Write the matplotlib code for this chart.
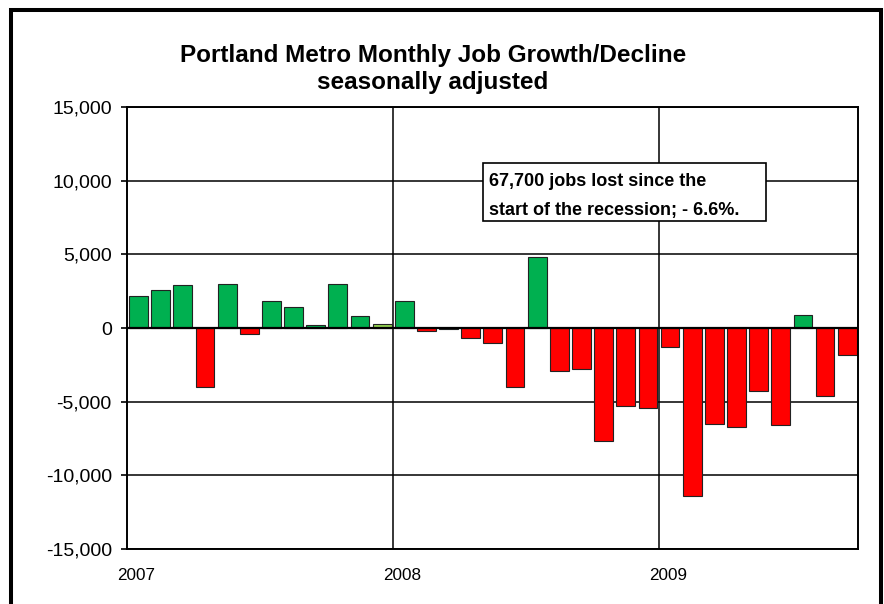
import matplotlib
matplotlib.use("Agg")
import matplotlib.pyplot as plt
from matplotlib.patches import Rectangle
from matplotlib.lines import Line2D
import numpy as np

plt.rcParams['font.family'] = ['Liberation Sans', 'DejaVu Sans']
plt.rcParams['axes.unicode_minus'] = False

# ---------------- data ----------------
months = ['2007-01', '2007-02', '2007-03', '2007-04', '2007-05', '2007-06',
          '2007-07', '2007-08', '2007-09', '2007-10', '2007-11', '2007-12',
          '2008-01', '2008-02', '2008-03', '2008-04', '2008-05', '2008-06',
          '2008-07', '2008-08', '2008-09', '2008-10', '2008-11', '2008-12',
          '2009-01', '2009-02', '2009-03', '2009-04', '2009-05', '2009-06',
          '2009-07', '2009-08', '2009-09']
job_change = [2200, 2600, 2900, -4000, 3000, -400, 1800, 1400, 200, 3000, 800, 300,
              1800, -200, -100, -700, -1000, -4000, 4800, -2900, -2800, -7700, -5300, -5400,
              -1300, -11400, -6500, -6700, -4300, -6600, 900, -4600, -1800]
highlight_month = '2007-12'
year_labels = ['2007', '2008', '2009']
y_ticks = [-15000, -10000, -5000, 0, 5000, 10000, 15000]
y_tick_labels = ['-15,000', '-10,000', '-5,000', '0', '5,000', '10,000', '15,000']
title_lines = ['Portland Metro Monthly Job Growth/Decline', 'seasonally adjusted']
note_lines = ['67,700 jobs lost since the', 'start of the recession; - 6.6%.']

# ---------------- styling ----------------
GREEN = '#00B050'
RED = '#FF0000'
LIGHT = '#92D050'

W, H = 884, 604
fig = plt.figure(figsize=(W / 100, H / 100), dpi=100)
fig.patch.set_facecolor('white')

left_px, right_px, top_px, bot_px = 127.5, 858.3, 107, 549
ax = fig.add_axes([left_px / W, (H - bot_px) / H,
                   (right_px - left_px) / W, (bot_px - top_px) / H])

n = len(months)
x = np.arange(n) + 0.5
colors = []
for m, v in zip(months, job_change):
    if m == highlight_month:
        colors.append(LIGHT)
    elif v >= 0:
        colors.append(GREEN)
    else:
        colors.append(RED)

ax.bar(x, job_change, width=0.85, color=colors, edgecolor='#222222',
       linewidth=0.8, zorder=3)
ax.axhline(0, color='black', lw=1.6, zorder=4)

ax.set_xlim(0, n)
ax.set_ylim(y_ticks[0], y_ticks[-1])
ax.set_yticks(y_ticks)
ax.set_yticklabels(y_tick_labels)

# year positions: index of first month of each year
year_starts = [months.index(y + '-01') for y in year_labels]
ax.set_xticks(year_starts[1:])
ax.set_xticklabels([])
ax.set_xticks([s + 0.4 for s in year_starts], minor=True)
ax.set_xticklabels(year_labels, minor=True)

ax.set_axisbelow(True)
ax.grid(True, which='major', color='black', lw=1.1)
ax.tick_params(axis='x', which='both', length=0)
ax.tick_params(axis='x', which='minor', labelsize=12.3, pad=13.5)
ax.tick_params(axis='y', which='major', direction='out', length=4.3,
               width=1.2, pad=7, labelsize=14)
for s in ax.spines.values():
    s.set_linewidth(1.4)
    s.set_color('black')
    s.set_zorder(5)

# title
fig.text(433 / W, 1 - 62 / H, title_lines[0], ha='center', va='baseline',
         fontsize=17.5, fontweight='bold')
fig.text(433 / W, 1 - 89.5 / H, title_lines[1], ha='center', va='baseline',
         fontsize=17.5, fontweight='bold')

# annotation box
bx0, bx1, by0, by1 = 483, 766, 163, 221
fig.add_artist(Rectangle((bx0 / W, 1 - by1 / H), (bx1 - bx0) / W, (by1 - by0) / H,
                         transform=fig.transFigure, facecolor='white',
                         edgecolor='black', lw=1.2, zorder=6))
fig.text(488.5 / W, 1 - 186 / H, note_lines[0], ha='left', va='baseline',
         fontsize=13, fontweight='bold', zorder=7)
fig.text(488.5 / W, 1 - 215 / H, note_lines[1], ha='left', va='baseline',
         fontsize=13, fontweight='bold', zorder=7)

# outer frame (bottom edge lies outside the image)
fig.add_artist(Line2D([11 / W, 11 / W, 880.5 / W, 880.5 / W],
                      [-0.05, 1 - 10 / H, 1 - 10 / H, -0.05],
                      transform=fig.transFigure, color='black', lw=2.9,
                      solid_joinstyle='miter', zorder=8))

fig.savefig('out.png', dpi=100)
